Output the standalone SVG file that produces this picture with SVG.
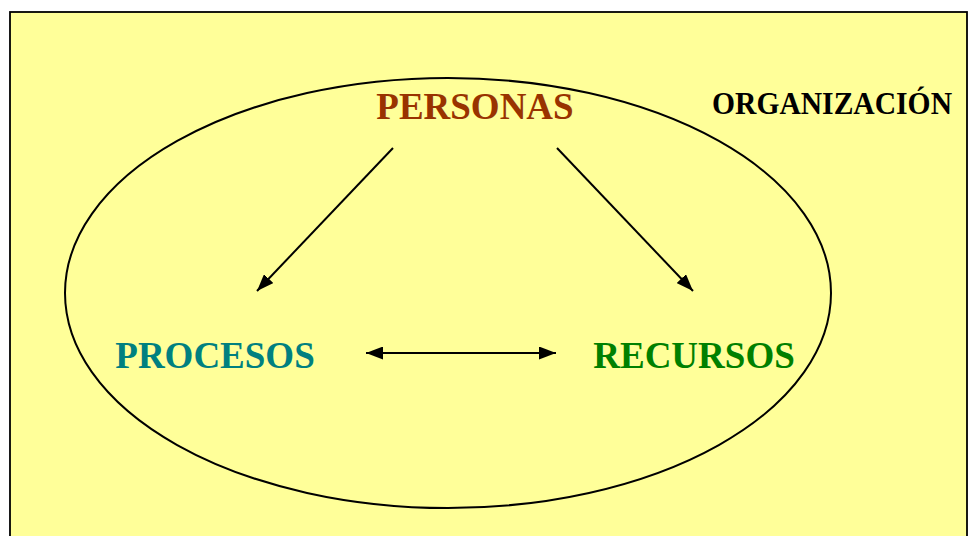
<svg xmlns="http://www.w3.org/2000/svg" width="971" height="536" viewBox="0 0 971 536">
<defs>
<style>
.lbl{font-family:"Liberation Serif","Times New Roman",serif;font-weight:bold}
.conn{stroke:#000;stroke-width:2;fill:none}
</style>
<marker id="ah" viewBox="0 0 17 13" refX="17" refY="6.5" markerWidth="17" markerHeight="13" markerUnits="userSpaceOnUse" orient="auto-start-reverse">
<path d="M0,0 L17,6.5 L0,13 Z" fill="#000"/>
</marker>
</defs>
<rect x="0" y="0" width="971" height="536" fill="#fff"/>
<g id="organizacion">
<rect x="10" y="12" width="957" height="530" fill="#FFFF99" stroke="#000" stroke-width="1.8"/>
<text class="lbl" x="712" y="114" font-size="31" fill="#000" textLength="240" lengthAdjust="spacingAndGlyphs">ORGANIZACIÓN</text>
</g>
<g id="ellipse">
<ellipse cx="448" cy="293" rx="383" ry="215" fill="none" stroke="#000" stroke-width="2"/>
</g>
<g id="personas">
<text class="lbl" x="475" y="119" font-size="37" fill="#993300" text-anchor="middle">PERSONAS</text>
</g>
<g id="procesos">
<text class="lbl" x="215" y="368" font-size="37" fill="#008080" text-anchor="middle">PROCESOS</text>
</g>
<g id="recursos">
<text class="lbl" x="694" y="368" font-size="37" fill="#008000" text-anchor="middle">RECURSOS</text>
</g>
<g id="connectors">
<line class="conn" x1="393" y1="148" x2="257" y2="291" marker-end="url(#ah)"/>
<line class="conn" x1="557" y1="148" x2="693" y2="291" marker-end="url(#ah)"/>
<line class="conn" x1="366" y1="353" x2="556" y2="353" marker-start="url(#ah)" marker-end="url(#ah)"/>
</g>
</svg>
